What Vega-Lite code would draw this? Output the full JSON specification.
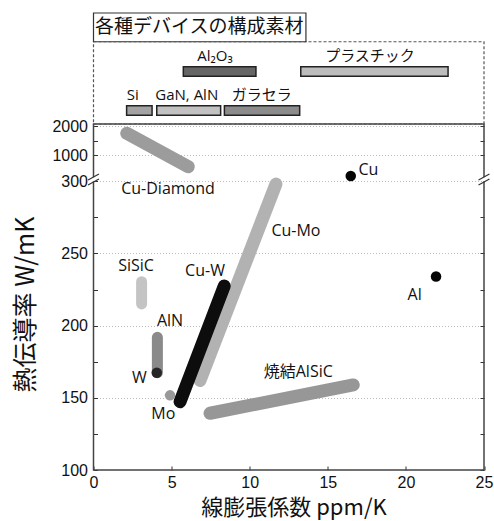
{
  "$schema": "https://vega.github.io/schema/vega-lite/v6.json",
  "width": 390.5,
  "height": 457,
  "autosize": "none",
  "padding": {"left": 93.5, "top": 13, "right": 10, "bottom": 51},
  "background": "white",
  "config": {
    "view": {"stroke": null},
    "axis": {
      "domain": false,
      "labelFont": "Liberation Sans",
      "labelFontSize": 16,
      "labelColor": "#111",
      "labelOverlap": false,
      "labelFlush": false,
      "labelBound": false,
      "tickColor": "#333",
      "tickWidth": 1,
      "titleFont": "Noto Sans CJK JP",
      "titleFontWeight": "normal",
      "titleColor": "#111"
    },
    "text": {"font": "Open Sans, Noto Sans CJK JP", "fontSize": 16, "color": "#111"}
  },
  "datasets": {
    "single": [{}],
    "bands": [
      {"name": "Cu-Diamond", "x1": 2.13, "y1": 1748, "x2": 6.07, "y2": 687},
      {"name": "Cu-Mo", "x1": 6.82, "y1": 162, "x2": 11.68, "y2": 298},
      {"name": "焼結AlSiC", "x1": 7.46, "y1": 139.3, "x2": 16.63, "y2": 158.9},
      {"name": "Cu-W", "x1": 5.54, "y1": 147.3, "x2": 8.37, "y2": 227.4}
    ],
    "narrow": [
      {"name": "SiSiC", "x1": 3.08, "y1": 215, "x2": 3.08, "y2": 230.4},
      {"name": "AlN", "x1": 4.09, "y1": 167.4, "x2": 4.09, "y2": 191.9}
    ],
    "points": [
      {"name": "Mo", "x": 4.9, "y": 151.7},
      {"name": "W", "x": 4.05, "y": 167.4},
      {"name": "Cu", "x": 16.47, "y": 440},
      {"name": "Al", "x": 21.93, "y": 234}
    ],
    "labels": [
      {"text": "Cu-Diamond", "x": 4.77, "y": 294.6},
      {"text": "Cu-Mo", "x": 12.96, "y": 265.7},
      {"text": "Cu-W", "x": 7.14, "y": 237.8},
      {"text": "SiSiC", "x": 2.72, "y": 241.5},
      {"text": "AlN", "x": 4.9, "y": 203.4},
      {"text": "W", "x": 2.93, "y": 163.9},
      {"text": "Mo", "x": 4.47, "y": 138.8},
      {"text": "焼結AlSiC", "x": 13.11, "y": 168},
      {"text": "Cu", "x": 17.6, "y": 599},
      {"text": "Al", "x": 20.56, "y": 221.2}
    ],
    "breaks": [
      {"side": 0, "x1": -0.35, "x2": 0.35, "y1": 297.4, "y2": 358.8},
      {"side": 0, "x1": -0.35, "x2": 0.35, "y1": 332, "y2": 492.4},
      {"side": 25, "x1": 24.65, "x2": 25.35, "y1": 297.4, "y2": 358.8},
      {"side": 25, "x1": 24.65, "x2": 25.35, "y1": 332, "y2": 492.4}
    ],
    "materials": [
      {"name": "Al₂O₃", "from": 5.75, "to": 10.4, "labelX": 7.78, "row": "upper"},
      {"name": "プラスチック", "from": 13.27, "to": 22.7, "labelX": 17.7, "row": "upper"},
      {"name": "Si", "from": 2.12, "to": 3.75, "labelX": 2.51, "row": "lower"},
      {"name": "GaN, AlN", "from": 4.05, "to": 8.14, "labelX": 5.97, "row": "lower"},
      {"name": "ガラセラ", "from": 8.38, "to": 13.2, "labelX": 10.77, "row": "lower"}
    ]
  },
  "layer": [
    {
      "resolve": {"scale": {"color": "independent"}},
      "layer": [
        {
          "data": {"name": "single"},
          "mark": {"type": "rect", "fill": null, "stroke": "#444", "strokeWidth": 1.5},
          "encoding": {
            "x": {"datum": 0, "type": "quantitative", "scale": {"domain": [0, 25], "nice": false, "zero": false},
              "axis": {
                "values": [0, 2.5, 5, 7.5, 10, 12.5, 15, 17.5, 20, 22.5, 25],
                "labelExpr": "datum.value % 5 === 0 ? datum.label : ''",
                "tickSize": -4,
                "labelPadding": 8,
                "grid": false,
                "title": "線膨張係数  ppm/K",
                "titleFontSize": 22,
                "titleX": 200,
                "titleY": 44,
                "titleBaseline": "alphabetic"
              }},
            "x2": {"datum": 25},
            "y": {"datum": 100, "type": "quantitative",
              "scale": {"domain": [100, 300, 1000, 2000, 2070], "range": [457, 168.2, 142, 113, 111], "nice": false, "zero": false},
              "axis": {
                "orient": "left",
                "values": [100, 125, 150, 175, 200, 225, 250, 275, 300, 1000, 1500, 2000],
                "format": "d",
                "labelExpr": "indexof([125, 175, 225, 275, 1500], datum.value) >= 0 ? '' : datum.label",
                "tickSize": -4,
                "labelPadding": 10,
                "grid": true,
                "gridDash": [1, 2],
                "gridColor": "#bbb",
                "gridOpacity": {"condition": {"test": "indexof([100, 125, 175, 225, 275, 1500], datum.value) >= 0", "value": 0}, "value": 1},
                "title": "熱伝導率  W/mK",
                "titleFontSize": 25,
                "titleAngle": -90,
                "titleX": -68,
                "titleY": 291,
                "titleBaseline": "middle",
                "titleAlign": "center"
              }},
            "y2": {"datum": 2070}
          }
        },
        {
          "data": {"name": "bands"},
          "mark": {"type": "rule", "strokeWidth": 13, "strokeCap": "round"},
          "encoding": {
            "x": {"field": "x1", "type": "quantitative"},
            "x2": {"field": "x2"},
            "y": {"field": "y1", "type": "quantitative"},
            "y2": {"field": "y2"},
            "color": {"field": "name", "type": "nominal", "legend": null,
              "scale": {"domain": ["Cu-Diamond", "Cu-Mo", "焼結AlSiC", "Cu-W"], "range": ["#9c9c9c", "#b2b2b2", "#979797", "#0d0d0d"]}}
          }
        },
        {
          "data": {"name": "narrow"},
          "mark": {"type": "rule", "strokeWidth": 11, "strokeCap": "round"},
          "encoding": {
            "x": {"field": "x1", "type": "quantitative"},
            "x2": {"field": "x2"},
            "y": {"field": "y1", "type": "quantitative"},
            "y2": {"field": "y2"},
            "color": {"field": "name", "type": "nominal", "legend": null,
              "scale": {"domain": ["SiSiC", "AlN"], "range": ["#c4c4c4", "#8a8a8a"]}}
          }
        },
        {
          "data": {"name": "points"},
          "mark": {"type": "circle", "size": 110, "opacity": 1},
          "encoding": {
            "x": {"field": "x", "type": "quantitative"},
            "y": {"field": "y", "type": "quantitative"},
            "color": {"field": "name", "type": "nominal", "legend": null,
              "scale": {"domain": ["Mo", "W", "Cu", "Al"], "range": ["#999999", "#262626", "#050505", "#050505"]}}
          }
        },
        {
          "data": {"name": "labels"},
          "mark": {"type": "text", "baseline": "middle", "align": "center"},
          "encoding": {
            "x": {"field": "x", "type": "quantitative"},
            "y": {"field": "y", "type": "quantitative"},
            "text": {"field": "text"}
          }
        },
        {
          "data": {"name": "breaks"},
          "mark": {"type": "rule", "color": "white", "strokeWidth": 4},
          "encoding": {
            "x": {"field": "side", "type": "quantitative"},
            "y": {"datum": 301},
            "y2": {"datum": 400}
          }
        },
        {
          "data": {"name": "breaks"},
          "mark": {"type": "rule", "color": "#333", "strokeWidth": 1.2},
          "encoding": {
            "x": {"field": "x1", "type": "quantitative"},
            "x2": {"field": "x2"},
            "y": {"field": "y1", "type": "quantitative"},
            "y2": {"field": "y2"}
          }
        }
      ]
    },
    {
      "data": {"name": "breaks"},
      "mark": {"type": "rule", "opacity": 0},
      "encoding": {
        "x": {"field": "side", "type": "quantitative"},
        "y": {"field": "y1", "type": "quantitative",
          "scale": {"domain": [100, 300, 1000, 2000, 2070], "range": [457, 168.2, 142, 113, 111], "nice": false, "zero": false},
          "axis": {
            "orient": "right",
            "values": [100, 125, 150, 175, 200, 225, 250, 275, 1000, 1500, 2000],
            "labels": false,
            "tickSize": -4,
            "grid": false,
            "title": null
          }}
      }
    },
    {
      "data": {"name": "single"},
      "layer": [
        {
          "mark": {"type": "rect", "fill": null, "stroke": "#555", "strokeWidth": 1.2, "strokeDash": [3, 2]},
          "encoding": {
            "x": {"datum": 0, "type": "quantitative"},
            "x2": {"datum": 25},
            "y": {"datum": 0, "type": "quantitative", "scale": {"domain": [0, 10], "range": [111, 0], "nice": false, "zero": false}, "axis": null},
            "y2": {"datum": 7.41}
          }
        },
        {
          "mark": {"type": "rect", "fill": "white", "stroke": "#333", "strokeWidth": 1.2},
          "encoding": {
            "x": {"datum": 0, "type": "quantitative"},
            "x2": {"datum": 13.6},
            "y": {"datum": 7.41, "type": "quantitative", "axis": null},
            "y2": {"datum": 10}
          }
        },
        {
          "mark": {"type": "text", "text": "各種デバイスの構成素材", "font": "Noto Sans CJK JP", "fontSize": 19, "align": "center", "baseline": "alphabetic"},
          "encoding": {
            "x": {"datum": 6.77, "type": "quantitative"},
            "y": {"datum": 8.17, "type": "quantitative", "axis": null}
          }
        }
      ]
    },
    {
      "data": {"name": "materials"},
      "resolve": {"scale": {"fill": "independent"}},
      "layer": [
        {
          "mark": {"type": "rect", "stroke": "#222", "strokeWidth": 1.5},
          "encoding": {
            "x": {"field": "from", "type": "quantitative"},
            "x2": {"field": "to"},
            "y": {"field": "row", "type": "nominal",
              "scale": {"type": "band", "domain": ["upper", "lower"], "range": [53.7, 102.3], "paddingInner": 0.757, "paddingOuter": 0},
              "axis": null},
            "fill": {"field": "name", "type": "nominal", "legend": null,
              "scale": {"domain": ["Al₂O₃", "プラスチック", "Si", "GaN, AlN", "ガラセラ"], "range": ["#666666", "#bdbdbd", "#a3a3a3", "#c2c2c2", "#8c8c8c"]}}
          }
        },
        {
          "mark": {"type": "text", "font": "Open Sans, Noto Sans CJK JP", "fontSize": 15, "align": "center", "baseline": "alphabetic", "dy": -6},
          "encoding": {
            "x": {"field": "labelX", "type": "quantitative"},
            "y": {"field": "row", "type": "nominal", "bandPosition": 0, "axis": null},
            "text": {"field": "name"}
          }
        }
      ]
    }
  ],
  "resolve": {"scale": {"y": "independent"}, "axis": {"y": "independent"}}
}
